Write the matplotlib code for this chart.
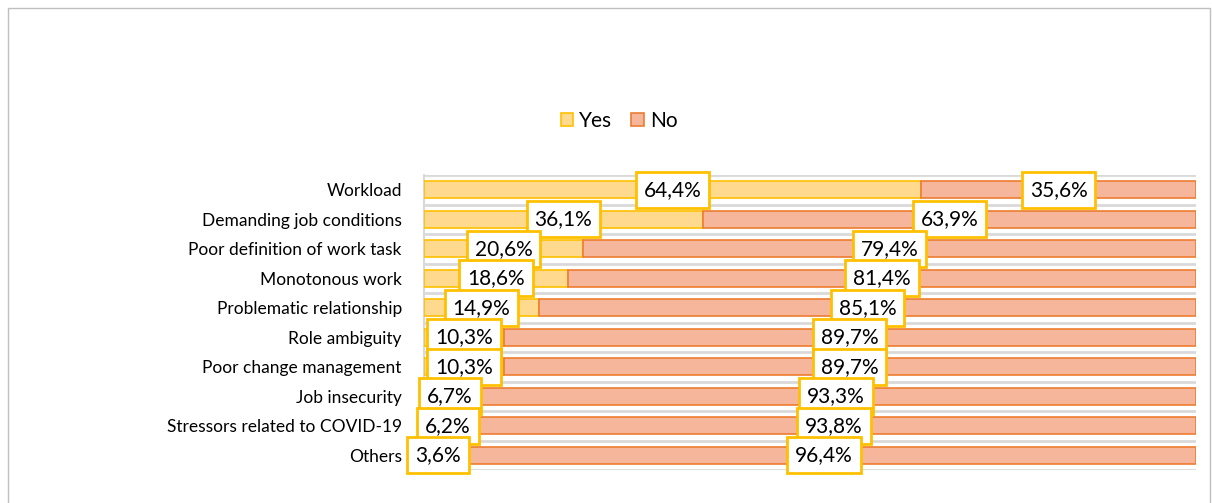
import matplotlib
matplotlib.use("Agg")
import matplotlib.pyplot as plt
from matplotlib.patches import Rectangle

categories = ["Workload", "Demanding job conditions", "Poor definition of work task",
              "Monotonous work", "Problematic relationship", "Role ambiguity",
              "Poor change management", "Job insecurity", "Stressors related to COVID-19",
              "Others"]
yes_vals = [64.4, 36.1, 20.6, 18.6, 14.9, 10.3, 10.3, 6.7, 6.2, 3.6]
no_vals = [35.6, 63.9, 79.4, 81.4, 85.1, 89.7, 89.7, 93.3, 93.8, 96.4]
series_names = ["Yes", "No"]

yes_fill, yes_edge = "#FFDA8E", "#FFC000"
no_fill, no_edge = "#F5B69C", "#ED7D31"

plt.rcParams['font.family'] = ['Lato', 'DejaVu Sans']

fig = plt.figure(figsize=(12.12, 5.03), dpi=100)
fig.patches.append(Rectangle((8/1212, -0.1), (1210-8)/1212, 1 - 8/503 + 0.1,
                             transform=fig.transFigure, fill=False,
                             edgecolor="#BFBFBF", linewidth=1))

ax = fig.add_axes([424/1212, 1 - 470/503, (1196-424)/1212, (470-175)/503])
n = len(categories)
ypos = list(range(n))
h = 0.58
b1 = ax.barh(ypos, yes_vals, height=h, color=yes_fill, edgecolor=yes_edge,
             linewidth=1.2, label=series_names[0], zorder=3)
b2 = ax.barh(ypos, no_vals, left=yes_vals, height=h, color=no_fill, edgecolor=no_edge,
             linewidth=1.2, label=series_names[1], zorder=3)

ax.set_xlim(0, 100)
ax.set_ylim(n - 0.5, -0.5)
ax.set_yticks(ypos)
ax.set_yticklabels(categories, fontsize=12.5, color="#000000")
ax.tick_params(axis='y', length=0, pad=16)
ax.set_xticks([])

# horizontal gridlines at category boundaries
for b in [i - 0.5 for i in range(n + 1)]:
    ax.axhline(b, color="#D9D9D9", linewidth=2, zorder=1)
for s in ["top", "right", "bottom"]:
    ax.spines[s].set_visible(False)
ax.spines["left"].set_color("#D9D9D9")
ax.spines["left"].set_linewidth(1.5)

def fmt(v):
    return f"{v:.1f}".replace(".", ",") + "%"

bbox = dict(boxstyle="square,pad=0.38", facecolor="white", edgecolor="#FFC000", linewidth=2)
for i in range(n):
    ax.text(yes_vals[i] / 2, i, fmt(yes_vals[i]), ha="center", va="center",
            fontsize=15, color="#000000", bbox=bbox, zorder=5)
    ax.text(yes_vals[i] + no_vals[i] / 2, i, fmt(no_vals[i]), ha="center", va="center",
            fontsize=15, color="#000000", bbox=bbox, zorder=5)

fig.legend(handles=[b1, b2], labels=series_names, loc="center",
           bbox_to_anchor=(619/1212, 1 - 121/503), ncol=2, frameon=False,
           fontsize=15, handlelength=0.6, handleheight=0.6, handletextpad=0.3,
           columnspacing=0.9)

fig.savefig("out.png", dpi=100)
